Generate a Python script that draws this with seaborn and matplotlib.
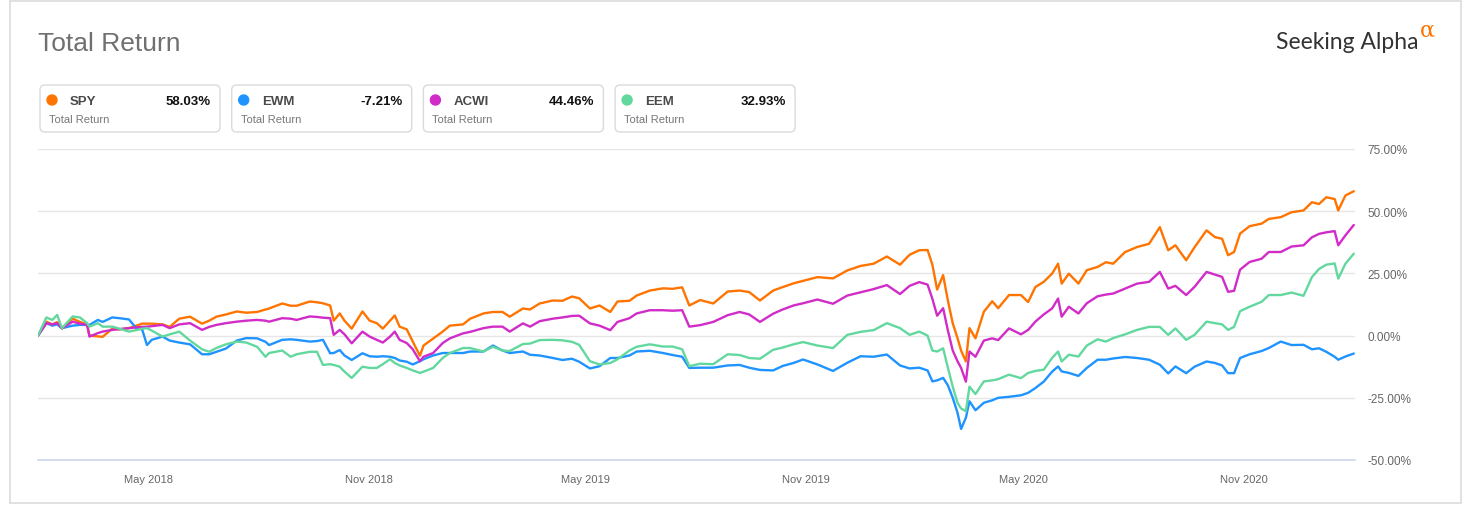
import pandas as pd
import seaborn as sns
import matplotlib.pyplot as plt
import matplotlib.dates as mdates
from matplotlib.patches import FancyBboxPatch, Rectangle, Circle
from matplotlib.ticker import FuncFormatter

# --- data (total return, %) ---
dates = [
    "2018-01-29", "2018-02-05", "2018-02-10", "2018-02-14", "2018-02-18", "2018-02-27", "2018-03-05", "2018-03-11", "2018-03-13", "2018-03-20",
    "2018-03-24", "2018-04-01", "2018-04-07", "2018-04-15", "2018-04-21", "2018-04-26", "2018-04-30", "2018-05-04", "2018-05-13", "2018-05-19",
    "2018-05-27", "2018-06-05", "2018-06-15", "2018-06-21", "2018-06-27", "2018-07-05", "2018-07-14", "2018-07-22", "2018-07-31", "2018-08-07",
    "2018-08-10", "2018-08-21", "2018-08-28", "2018-09-02", "2018-09-13", "2018-09-19", "2018-09-24", "2018-09-30", "2018-10-03", "2018-10-08",
    "2018-10-12", "2018-10-18", "2018-10-27", "2018-11-02", "2018-11-08", "2018-11-13", "2018-11-19", "2018-11-23", "2018-11-27", "2018-12-03",
    "2018-12-08", "2018-12-14", "2018-12-17", "2018-12-25", "2019-01-02", "2019-01-08", "2019-01-19", "2019-01-25", "2019-02-05", "2019-02-13",
    "2019-02-21", "2019-02-27", "2019-03-10", "2019-03-16", "2019-03-24", "2019-04-04", "2019-04-12", "2019-04-20", "2019-04-26", "2019-05-05",
    "2019-05-13", "2019-05-22", "2019-05-28", "2019-06-07", "2019-06-13", "2019-06-24", "2019-07-05", "2019-07-13", "2019-07-21", "2019-07-27",
    "2019-08-05", "2019-08-16", "2019-08-28", "2019-09-07", "2019-09-15", "2019-09-24", "2019-10-05", "2019-10-13", "2019-10-22", "2019-10-30",
    "2019-11-11", "2019-11-24", "2019-12-06", "2019-12-17", "2019-12-28", "2020-01-08", "2020-01-19", "2020-01-27", "2020-02-04", "2020-02-11",
    "2020-02-15", "2020-02-19", "2020-02-24", "2020-02-28", "2020-03-03", "2020-03-07", "2020-03-10", "2020-03-14", "2020-03-17", "2020-03-22",
    "2020-03-29", "2020-04-05", "2020-04-10", "2020-04-19", "2020-04-29", "2020-05-05", "2020-05-11", "2020-05-18", "2020-05-25", "2020-05-30",
    "2020-06-02", "2020-06-08", "2020-06-16", "2020-06-23", "2020-07-02", "2020-07-09", "2020-07-15", "2020-07-25", "2020-08-04", "2020-08-14",
    "2020-08-23", "2020-08-30", "2020-09-05", "2020-09-14", "2020-09-21", "2020-10-01", "2020-10-08", "2020-10-14", "2020-10-19", "2020-10-24",
    "2020-10-29", "2020-11-06", "2020-11-16", "2020-11-22", "2020-12-02", "2020-12-11", "2020-12-21", "2020-12-28", "2021-01-03", "2021-01-09",
    "2021-01-16", "2021-01-19", "2021-01-25", "2021-02-01",
]

spy = [
    0, 5.6, 4.5, 5.4, 2.8, 6.8, 5.5, 4.5, 0.0, -0.3,
    -0.5, 2.8, 2.5, 3.0, 4.0, 4.8, 4.8, 4.8, 4.5, 3.5,
    6.8, 7.6, 4.8, 6.0, 7.6, 8.5, 9.7, 9.2, 9.5, 10.5,
    10.9, 12.9, 12.0, 12.0, 13.7, 13.4, 13.0, 12.1, 6.0, 8.9,
    6.0, 2.8, 9.7, 6.0, 5.0, 2.8, 6.0, 8.1, 3.6, 2.5,
    -2.4, -8.1, -4.0, -1.2, 1.6, 4.0, 4.5, 6.8, 8.9, 9.5,
    9.5, 7.6, 10.9, 10.5, 12.9, 14.1, 14.0, 15.7, 15.0, 10.9,
    12.1, 9.5, 13.7, 14.0, 16.1, 18.1, 19.0, 18.8, 19.4, 12.1,
    14.3, 12.9, 17.7, 18.1, 17.5, 14.1, 18.1, 19.5, 21.0, 22.0,
    23.5, 23.0, 26.2, 28.0, 28.9, 31.8, 28.5, 32.5, 34.3, 34.4,
    28.5, 18.5, 24.3, 14.0, 5.0, -1.0, -6.0, -10.4, 3.0, -1.1,
    9.6, 13.8, 11.0, 16.3, 16.3, 13.5, 19.5, 21.6, 24.9, 28.9,
    20.9, 24.9, 20.9, 26.3, 27.6, 29.5, 28.9, 33.6, 35.6, 36.9,
    43.6, 34.3, 36.3, 30.3, 35.5, 42.3, 39.6, 38.9, 32.3, 33.6,
    41.0, 44.0, 45.0, 46.9, 47.6, 49.6, 50.3, 53.6, 52.9, 55.6,
    54.9, 50.3, 56.3, 58.03,
]

ewm = [
    0, 5.0, 4.0, 4.5, 3.0, 4.0, 4.3, 4.3, 4.3, 6.3,
    5.5, 7.3, 7.0, 6.5, 3.0, 2.5, -3.8, -1.7, -0.4, -2.0,
    -2.8, -3.5, -7.5, -7.5, -6.5, -5.2, -2.0, -1.0, -1.1, -2.5,
    -3.8, -1.7, -1.5, -1.7, -2.4, -2.2, -1.7, -7.1, -7.0, -5.8,
    -8.0, -9.8, -7.1, -8.3, -8.5, -8.3, -8.5, -9.0, -10.0, -10.5,
    -11.6, -10.3, -9.5, -8.0, -7.0, -7.0, -7.0, -6.4, -6.4, -4.0,
    -6.0, -7.0, -6.4, -7.7, -8.0, -9.0, -9.8, -9.3, -10.5, -13.2,
    -12.3, -9.0, -9.0, -8.0, -6.4, -6.1, -7.0, -7.8, -8.5, -13.0,
    -12.9, -12.9, -12.0, -11.8, -12.9, -13.8, -14.0, -12.2, -11.0, -9.6,
    -11.6, -14.2, -10.9, -8.3, -8.5, -7.6, -12.0, -13.2, -12.9, -14.0,
    -18.4, -18.0, -17.0, -20.0, -25.0, -31.0, -37.5, -33.0, -26.4, -30.0,
    -27.0, -26.0, -25.0, -24.6, -24.0, -23.0, -21.1, -18.5, -14.5, -12.4,
    -14.4, -15.0, -16.2, -13.0, -9.7, -9.7, -9.2, -8.6, -9.0, -9.7,
    -11.7, -15.2, -12.4, -15.1, -12.5, -10.4, -11.0, -12.0, -15.1, -15.1,
    -9.0, -7.5, -6.2, -5.0, -2.4, -3.8, -3.7, -5.5, -5.1, -6.5,
    -8.5, -9.7, -8.4, -7.21,
]

acwi = [
    0, 5.0, 4.5, 5.0, 3.0, 5.6, 4.8, 4.3, -0.4, 1.0,
    1.6, 2.3, 2.6, 3.0, 3.3, 3.5, 3.6, 3.8, 4.3, 3.0,
    4.5, 5.0, 2.3, 3.5, 4.3, 5.0, 5.6, 6.0, 6.3, 6.0,
    5.6, 7.0, 6.8, 6.3, 7.7, 7.5, 7.2, 7.0, 0.3, 2.3,
    0.5, -3.1, 1.6, -0.4, -1.7, -2.8, -0.4, 1.6, -1.7, -3.0,
    -5.5, -10.3, -8.5, -7.0, -3.0, -1.1, 0.9, 1.5, 3.0, 3.6,
    3.6, 1.6, 4.9, 3.6, 5.8, 6.8, 7.3, 7.9, 8.0, 4.9,
    4.0, 2.2, 5.5, 7.0, 8.9, 10.2, 10.2, 10.0, 10.2, 3.6,
    4.2, 5.5, 8.2, 9.5, 8.5, 5.5, 8.8, 10.5, 12.1, 13.0,
    14.5, 12.8, 16.1, 17.4, 18.7, 20.3, 16.7, 20.0, 21.5, 20.5,
    14.8, 8.0, 11.0, 2.0, -6.0, -10.3, -13.0, -18.5, -6.4, -8.5,
    -2.0, -1.1, -1.8, 2.9, 0.5, 2.3, 5.6, 8.5, 10.9, 14.9,
    7.6, 11.6, 8.9, 13.0, 15.8, 16.5, 16.9, 18.9, 20.9, 21.6,
    25.6, 18.9, 20.0, 16.3, 19.6, 25.6, 24.5, 23.6, 17.6, 18.0,
    26.5, 29.6, 30.9, 33.6, 33.6, 35.8, 36.3, 39.5, 40.9, 41.5,
    42.0, 36.3, 40.3, 44.46,
]

eem = [
    0, 7.3, 6.3, 8.3, 3.0, 7.7, 7.3, 5.0, 3.6, 5.0,
    3.6, 3.6, 2.8, 1.6, 2.2, 2.8, 3.0, 2.0, -0.4, 0.5,
    1.6, -2.0, -5.5, -6.5, -5.0, -3.5, -2.4, -2.8, -4.5, -8.5,
    -7.0, -6.0, -8.5, -7.5, -6.5, -6.5, -11.8, -11.5, -11.8, -12.5,
    -14.5, -17.0, -12.5, -13.0, -13.0, -11.5, -9.5, -11.0, -12.0, -13.0,
    -14.0, -15.0, -14.5, -13.0, -9.0, -7.0, -5.0, -5.0, -6.4, -4.5,
    -6.0, -6.2, -3.4, -3.2, -1.8, -1.7, -1.9, -2.5, -3.7, -10.3,
    -11.6, -11.0, -9.5, -6.0, -4.5, -3.5, -4.4, -4.4, -5.5, -12.3,
    -11.3, -11.5, -7.5, -7.8, -9.0, -9.3, -5.7, -4.8, -3.5, -2.6,
    -4.0, -5.0, 0.3, 1.5, 2.2, 5.0, 3.0, 0.3, 1.6, 0.0,
    -6.0, -6.4, -5.1, -13.0, -20.5, -27.0, -29.3, -30.4, -20.5, -23.5,
    -18.4, -18.0, -17.5, -15.7, -17.1, -15.0, -14.2, -13.7, -9.0, -6.4,
    -10.4, -7.7, -8.4, -4.0, -1.5, -2.4, -1.0, 0.5, 2.3, 3.5,
    3.5, 0.3, 2.9, -1.7, 0.3, 5.6, 5.0, 4.5, 2.3, 3.5,
    9.8, 11.6, 13.6, 16.3, 16.3, 17.3, 16.0, 23.5, 26.8, 28.5,
    29.0, 22.9, 28.9, 32.93,
]

tickers = ["SPY", "EWM", "ACWI", "EEM"]
final_returns = ["58.03%", "-7.21%", "44.46%", "32.93%"]
colors = ["#ff7400", "#1f93ff", "#d12bc8", "#62d89f"]
y_ticks = [-50, -25, 0, 25, 50, 75]
x_ticks = ["2018-05-01", "2018-11-01", "2019-05-01", "2019-11-01", "2020-05-01", "2020-11-01"]

df = pd.DataFrame({"date": pd.to_datetime(dates), "SPY": spy, "EWM": ewm, "ACWI": acwi, "EEM": eem})
df = df.melt(id_vars="date", var_name="ticker", value_name="total_return")

sns.set_style("white")
plt.rcParams["font.family"] = ["Liberation Sans", "DejaVu Sans"]

W, H = 1462, 506
fig = plt.figure(figsize=(W / 100, H / 100), dpi=100)

# background layer in pixel coordinates for the card, title, legend boxes
bg = fig.add_axes([0, 0, 1, 1], zorder=0)
bg.set_xlim(0, W)
bg.set_ylim(H, 0)
bg.axis("off")
bg.add_patch(Rectangle((10, 1.5), W - 11.5, H - 3.5, fill=False, edgecolor="#dcdcdc", lw=1.2))
bg.text(38, 44, "Total Return", fontsize=19, color="#707070", va="center", ha="left")
bg.text(1418, 42, "Seeking Alpha", fontsize=16.5, color="#333333", va="center", ha="right", family=["Lato", "DejaVu Sans"])
bg.text(1420, 31, "\u03b1", fontsize=16, color="#ff7400", va="center", ha="left", family=["DejaVu Serif"])

for i, (tk, val, col) in enumerate(zip(tickers, final_returns, colors)):
    left = 40 + i * 191.7
    bg.add_patch(FancyBboxPatch((left, 86), 180, 47, boxstyle="round,pad=0,rounding_size=5",
                                facecolor="white", edgecolor="#dadada", lw=1))
    bg.add_patch(Circle((left + 12, 101), 5, color=col))
    bg.text(left + 30, 101.5, tk, fontsize=9.5, fontweight="bold", color="#4a4a4a", va="center", ha="left")
    bg.text(left + 171, 101.5, val, fontsize=9.5, fontweight="bold", color="#111111", va="center", ha="right")
    bg.text(left + 9, 119.5, "Total Return", fontsize=8, color="#777777", va="center", ha="left")

# --- main chart ---
ax = fig.add_axes([38 / W, 1 - 461 / H, (1355 - 38) / W, (461 - 150) / H], zorder=1)
ax.patch.set_alpha(0)
sns.lineplot(data=df, x="date", y="total_return", hue="ticker", hue_order=tickers,
             palette=dict(zip(tickers, colors)), linewidth=1.7, legend=False, ax=ax)

ax.set_xlim(pd.Timestamp("2018-01-29"), pd.Timestamp("2021-02-02"))
ax.set_ylim(-50, 75)
ax.set_yticks(y_ticks)
ax.yaxis.tick_right()
ax.yaxis.set_major_formatter(FuncFormatter(lambda v, _: f"{v:.2f}%"))
ax.tick_params(axis="y", length=0, pad=9, labelsize=8.5, labelcolor="#666666")
ax.set_xticks(pd.to_datetime(x_ticks))
ax.xaxis.set_major_formatter(mdates.DateFormatter("%b %Y"))
ax.tick_params(axis="x", length=7, width=1, color="#ccd6eb", pad=3, labelsize=8, labelcolor="#666666")
ax.grid(axis="y", color="#e6e6e6", lw=1)
ax.grid(axis="x", visible=False)
ax.set_xlabel("")
ax.set_ylabel("")
for side in ["top", "right", "left"]:
    ax.spines[side].set_visible(False)
ax.spines["bottom"].set_color("#ccd6eb")
ax.spines["bottom"].set_linewidth(1.2)

plt.savefig("out.png", dpi=100)
